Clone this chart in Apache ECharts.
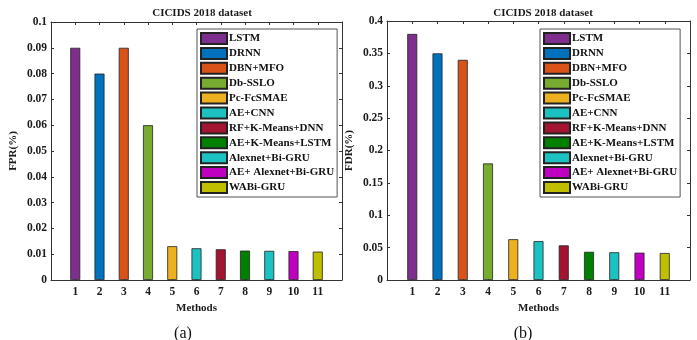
<!DOCTYPE html>
<html>
<head>
<meta charset="utf-8">
<script src="https://cdn.jsdelivr.net/npm/echarts@6/dist/echarts.min.js"></script>
<style>
html,body{margin:0;padding:0;background:#fff;}
#c{width:697px;height:340px;}
</style>
</head>
<body>
<div id="c"></div>
<script>
var categories = ['1','2','3','4','5','6','7','8','9','10','11'];
var methods = ['LSTM','DRNN','DBN+MFO','Db-SSLO','Pc-FcSMAE','AE+CNN','RF+K-Means+DNN','AE+K-Means+LSTM','Alexnet+Bi-GRU','AE+ Alexnet+Bi-GRU','WABi-GRU'];
var fpr = [0.09, 0.08, 0.09, 0.06, 0.0131, 0.0123, 0.0119, 0.0114, 0.0113, 0.0112, 0.011];
var fdr = [0.38, 0.35, 0.34, 0.18, 0.063, 0.060, 0.0535, 0.0435, 0.0428, 0.0422, 0.0417];
var colors = ['#7E2F8E','#0072BD','#D95319','#77AC30','#EDB120','#1CC2C2','#A2142F','#008000','#1CC2C2','#C000C0','#BFBF00'];
var yTicksA = [0, 0.1, 0.01];
var yTicksB = [0, 0.4, 0.05];

var FONT = "'Liberation Serif','Times New Roman',serif";
var axisCol = '#333';

function xAx(grid, pos, labels) {
  return {
    type: 'value', gridIndex: grid, position: pos, min: 0, max: 12, interval: 1,
    axisLine: {show: true, onZero: false, lineStyle: {color: axisCol, width: 1}},
    axisTick: {show: true, inside: true, length: 3, lineStyle: {color: axisCol}},
    splitLine: {show: false},
    axisLabel: labels ? {
      show: true, margin: 6, color: '#1a1a1a', fontFamily: FONT, fontWeight: 'bold', fontSize: 11.5,
      formatter: function (v) { return (v >= 1 && v <= 11) ? categories[v - 1] : ''; }
    } : {show: false},
    name: labels ? 'Methods' : '', nameLocation: 'middle', nameGap: 21,
    nameTextStyle: {color: '#1a1a1a', fontFamily: FONT, fontWeight: 'bold', fontSize: 11}
  };
}
function yAx(grid, pos, ticks, labels, name) {
  return {
    type: 'value', gridIndex: grid, position: pos, min: ticks[0], max: ticks[1], interval: ticks[2],
    axisLine: {show: true, onZero: false, lineStyle: {color: axisCol, width: 1}},
    axisTick: {show: true, inside: true, length: 3, lineStyle: {color: axisCol}},
    splitLine: {show: false},
    axisLabel: labels ? {show: true, margin: 4, color: '#1a1a1a', fontFamily: FONT, fontWeight: 'bold', fontSize: 11.5} : {show: false},
    name: labels ? name : '', nameLocation: 'middle', nameGap: 32,
    nameTextStyle: {color: '#1a1a1a', fontFamily: FONT, fontWeight: 'bold', fontSize: 11}
  };
}

var series = [];
methods.forEach(function (m, i) {
  series.push({
    type: 'bar', name: m, xAxisIndex: 0, yAxisIndex: 0, barWidth: 10, barGap: '-100%',
    itemStyle: {color: colors[i], borderColor: '#222', borderWidth: 0.8},
    data: [[i + 1, fpr[i]]]
  });
});
methods.forEach(function (m, i) {
  series.push({
    type: 'bar', name: m, xAxisIndex: 2, yAxisIndex: 2, barWidth: 10, barGap: '-100%',
    itemStyle: {color: colors[i], borderColor: '#222', borderWidth: 0.8},
    data: [[i + 1, fdr[i]]]
  });
});

function legend(left) {
  return {
    data: methods, orient: 'vertical', left: left, top: 29,
    backgroundColor: '#fff', borderColor: '#555', borderWidth: 1,
    padding: [3, 3, 3, 3], itemWidth: 26, itemHeight: 11, itemGap: 1.9,
    icon: 'rect', selectedMode: false,
    textStyle: {color: '#111', fontFamily: FONT, fontWeight: 'bold', fontSize: 11, padding: [0, 0, 0, -3]}
  };
}

var option = {
  animation: false,
  backgroundColor: '#fff',
  title: [
    {text: 'CICIDS 2018 dataset', left: 197, top: 3, textAlign: 'center',
     textStyle: {fontFamily: FONT, fontWeight: 'bold', fontSize: 11, color: '#1a1a1a'}},
    {text: 'CICIDS 2018 dataset', left: 538, top: 3, textAlign: 'center',
     textStyle: {fontFamily: FONT, fontWeight: 'bold', fontSize: 11, color: '#1a1a1a'}},
    {text: '(a)', left: 178, top: 321, textAlign: 'center',
     textStyle: {fontFamily: FONT, fontWeight: 'normal', fontSize: 16, color: '#111'}},
    {text: '(b)', left: 518, top: 321, textAlign: 'center',
     textStyle: {fontFamily: FONT, fontWeight: 'normal', fontSize: 16, color: '#111'}}
  ],
  grid: [
    {left: 51, top: 22, width: 291, height: 258},
    {left: 387, top: 21, width: 303, height: 259}
  ],
  xAxis: [xAx(0, 'bottom', true), xAx(0, 'top', false), xAx(1, 'bottom', true), xAx(1, 'top', false)],
  yAxis: [yAx(0, 'left', yTicksA, true, 'FPR(%)'), yAx(0, 'right', yTicksA, false),
          yAx(1, 'left', yTicksB, true, 'FDR(%)'), yAx(1, 'right', yTicksB, false)],
  legend: [legend(197), legend(540)],
  series: series
};
var chart = echarts.init(document.getElementById('c'), null, {renderer: 'canvas'});
chart.setOption(option);
</script>
</body>
</html>
